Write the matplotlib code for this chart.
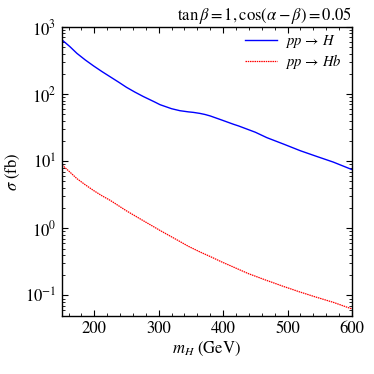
import matplotlib
matplotlib.use("Agg")
import matplotlib.pyplot as plt
from matplotlib.ticker import MultipleLocator, LogLocator, NullFormatter

plt.rcParams['font.family'] = ['STIXGeneral', 'DejaVu Serif']
plt.rcParams['mathtext.fontset'] = 'stix'

# data
mH_H = [150, 162, 173, 186, 199, 212, 225, 238, 250, 263, 276, 294, 302, 320, 333, 346, 354, 364, 372, 380, 398, 416, 424, 450, 468, 495, 520, 545, 571, 600]
sigma_H = [640, 510, 404, 322, 262, 216, 180, 150, 126, 107, 92, 76, 69.5, 60.5, 56.5, 54.3, 53.3, 51.5, 49.6, 47.2, 41, 35.5, 33.5, 27, 22.4, 17.8, 14.3, 11.8, 9.7, 7.5]
mH_Hb = [150, 162, 173, 186, 199, 212, 225, 250, 276, 302, 330, 346, 364, 380, 398, 416, 440, 468, 495, 520, 545, 571, 600]
sigma_Hb = [8.8, 6.9, 5.5, 4.45, 3.65, 3.05, 2.6, 1.82, 1.3, 0.93, 0.66, 0.54, 0.445, 0.38, 0.315, 0.265, 0.21, 0.167, 0.135, 0.112, 0.094, 0.079, 0.063]
labels = [r'$pp\,\rightarrow\,H$', r'$pp\,\rightarrow\,Hb$']
title = r'$\tan\beta = 1, \cos(\alpha-\beta) = 0.05$'

fig = plt.figure(figsize=(3.74, 3.74), dpi=100)
ax = fig.add_axes([0.166, 0.156, 0.775, 0.772])
ax.plot(mH_H, sigma_H, color='#0000ff', lw=1.0, label=labels[0])
ax.plot(mH_Hb, sigma_Hb, color='#ff0000', lw=0.9, ls=(0, (1.2, 0.6)), label=labels[1])
ax.set_yscale('log')
ax.set_xlim(150, 600)
ax.set_ylim(0.05, 1000)
ax.xaxis.set_major_locator(MultipleLocator(100))
ax.xaxis.set_minor_locator(MultipleLocator(20))
ax.yaxis.set_major_locator(LogLocator(base=10, numticks=10))
ax.yaxis.set_minor_locator(LogLocator(base=10, subs=range(2, 10), numticks=20))
ax.yaxis.set_minor_formatter(NullFormatter())
ax.tick_params(which='both', direction='in', top=True, right=True, labelsize=12)
ax.tick_params(which='major', length=4.5, width=0.8, pad=4)
ax.tick_params(which='minor', length=2.5, width=0.6)
for s in ax.spines.values():
    s.set_linewidth(1.0)
ax.set_xlabel(r'$m_H$ (GeV)', fontsize=12, labelpad=2)
ax.set_ylabel(r'$\sigma$ (fb)', fontsize=12, labelpad=2)
ax.set_title(title, loc='right', fontsize=12, pad=5)
ax.legend(loc='upper right', bbox_to_anchor=(1.0, 1.014), frameon=False, fontsize=10.5,
          handlelength=2.2, borderaxespad=0.3, labelspacing=0.12, handletextpad=0.55)
fig.savefig('out.png', dpi=100)
